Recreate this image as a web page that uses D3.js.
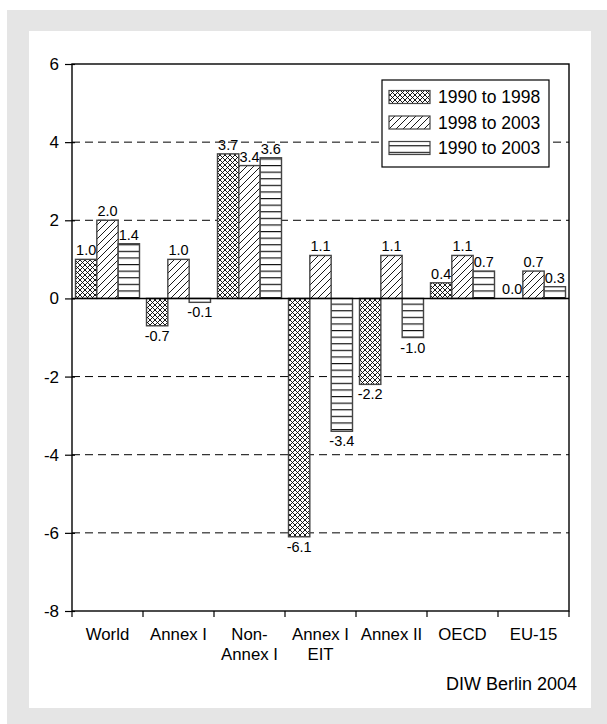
<!DOCTYPE html>
<html>
<head>
<meta charset="utf-8">
<script src="https://cdn.jsdelivr.net/npm/d3@7"></script>
<style>
  html, body { margin: 0; padding: 0; background: #fff; }
  svg { display: block; font-family: "Liberation Sans", Arial, sans-serif; }
</style>
</head>
<body>
<svg id="chart" width="607" height="724"></svg>
<script>
// Average annual change, per cent
const categories = [
  ["World"], ["Annex I"], ["Non-", "Annex I"], ["Annex I", "EIT"],
  ["Annex II"], ["OECD"], ["EU-15"]
];
const seriesNames = ["1990 to 1998", "1998 to 2003", "1990 to 2003"];
const s1990to1998 = [1.0, -0.7, 3.7, -6.1, -2.2, 0.4, 0.0];
const s1998to2003 = [2.0, 1.0, 3.4, 1.1, 1.1, 1.1, 0.7];
const s1990to2003 = [1.4, -0.1, 3.6, -3.4, -1.0, 0.7, 0.3];
const yTicks = [-8, -6, -4, -2, 0, 2, 4, 6];
const credit = "DIW Berlin 2004";

const seriesValues = [s1990to1998, s1998to2003, s1990to2003];
const patternIds = ["pat-cross", "pat-diag", "pat-horiz"];

const svg = d3.select("#chart");

// Frame
svg.append("rect").attr("x", 7).attr("y", 10).attr("width", 600).attr("height", 714).attr("fill", "#e5e5e5");
svg.append("rect").attr("x", 29).attr("y", 31).attr("width", 562).attr("height", 677).attr("fill", "#fff");

// Fill patterns
const defs = svg.append("defs");
const pc = defs.append("pattern").attr("id", "pat-cross").attr("patternUnits", "userSpaceOnUse")
  .attr("width", 5).attr("height", 5);
pc.append("rect").attr("width", 5).attr("height", 5).attr("fill", "#fff");
pc.append("path").attr("d", "M0,0L5,5M5,0L0,5").attr("stroke", "#000").attr("stroke-width", 0.9);

const pd = defs.append("pattern").attr("id", "pat-diag").attr("patternUnits", "userSpaceOnUse")
  .attr("width", 7).attr("height", 7);
pd.append("rect").attr("width", 7).attr("height", 7).attr("fill", "#fff");
pd.append("path").attr("d", "M0,7L7,0M-1,1L1,-1M6,8L8,6").attr("stroke", "#000").attr("stroke-width", 0.9);

const ph = defs.append("pattern").attr("id", "pat-horiz").attr("patternUnits", "userSpaceOnUse")
  .attr("width", 8).attr("height", 6.6);
ph.append("rect").attr("width", 8).attr("height", 6.6).attr("fill", "#fff");
ph.append("path").attr("d", "M0,0.6H8").attr("stroke", "#000").attr("stroke-width", 1.1);

// Scales
const y = d3.scaleLinear().domain([-8, 6]).range([611, 64]);
const x = d3.scaleBand().domain(d3.range(categories.length)).range([72, 569]).paddingInner(0).paddingOuter(0);
const xs = d3.scaleBand().domain(d3.range(seriesNames.length)).range([3.5, x.bandwidth() - 3.5]);

// Gridlines
svg.append("g").selectAll("line")
  .data(yTicks.filter(t => t !== 0 && t !== -8 && t !== 6))
  .join("line")
  .attr("x1", 72).attr("x2", 569)
  .attr("y1", d => y(d)).attr("y2", d => y(d))
  .attr("stroke", "#000").attr("stroke-width", 1)
  .attr("stroke-dasharray", "8,5");

// Bars
const bars = svg.append("g");
seriesValues.forEach((vals, si) => {
  bars.selectAll(null).data(vals).join("rect")
    .attr("x", (d, i) => x(i) + xs(si))
    .attr("width", xs.bandwidth())
    .attr("y", d => y(Math.max(0, d)))
    .attr("height", d => Math.abs(y(d) - y(0)))
    .attr("fill", `url(#${patternIds[si]})`)
    .attr("stroke", "#444").attr("stroke-width", 1.4);
});

// Zero line
svg.append("line").attr("x1", 72).attr("x2", 569).attr("y1", y(0)).attr("y2", y(0))
  .attr("stroke", "#000").attr("stroke-width", 1.4);

// Plot frame
svg.append("rect").attr("x", 72).attr("y", y(6)).attr("width", 569 - 72).attr("height", y(-8) - y(6))
  .attr("fill", "none").attr("stroke", "#000").attr("stroke-width", 1.4);

// Value labels
const labels = svg.append("g").attr("font-size", 14.5).attr("fill", "#000").attr("text-anchor", "middle");
seriesValues.forEach((vals, si) => {
  labels.selectAll(null).data(vals).join("text")
    .attr("x", (d, i) => x(i) + xs(si) + xs.bandwidth() / 2)
    .attr("y", d => d < 0 ? y(d) + 15 : y(d) - 4)
    .text(d => d.toFixed(1));
});

// Y axis
const yAxis = d3.axisLeft(y).tickValues(yTicks).tickSize(7).tickPadding(6).tickFormat(d => String(d));
const gy = svg.append("g").attr("transform", "translate(72,0)").call(yAxis);
gy.select(".domain").remove();
gy.selectAll(".tick line").attr("stroke", "#000").attr("stroke-width", 1.2).attr("x2", -7).attr("x1", 3);
gy.selectAll(".tick text").attr("font-size", 17).attr("font-family", "Liberation Sans, Arial, sans-serif").attr("fill", "#000");

// X axis ticks
const xAxisTicks = d3.range(categories.length + 1).map(i => i < categories.length ? x(i) : 569);
svg.append("g").selectAll("line").data(xAxisTicks).join("line")
  .attr("x1", d => d).attr("x2", d => d).attr("y1", y(-8)).attr("y2", y(-8) + 6)
  .attr("stroke", "#000").attr("stroke-width", 1.2);

// Category labels
const cl = svg.append("g").attr("font-size", 16.8).attr("text-anchor", "middle").attr("fill", "#000");
categories.forEach((lines, i) => {
  const t = cl.append("text").attr("x", x(i) + x.bandwidth() / 2).attr("y", 640);
  lines.forEach((ln, k) => {
    t.append("tspan").attr("x", x(i) + x.bandwidth() / 2).attr("dy", k === 0 ? 0 : 20).text(ln);
  });
});

// Legend
const lg = svg.append("g");
lg.append("rect").attr("x", 382).attr("y", 80).attr("width", 167).attr("height", 87)
  .attr("fill", "#fff").attr("stroke", "#000").attr("stroke-width", 1.2);
seriesNames.forEach((name, i) => {
  const cy = 97 + i * 25.5;
  lg.append("rect").attr("x", 389).attr("y", cy - 6.5).attr("width", 41).attr("height", 13)
    .attr("fill", `url(#${patternIds[i]})`).attr("stroke", "#444").attr("stroke-width", 1.2);
  lg.append("text").attr("x", 438).attr("y", cy).attr("dy", "0.36em")
    .attr("font-size", 17.5).attr("fill", "#000").text(name);
});

// Source
svg.append("text").attr("x", 577).attr("y", 690).attr("text-anchor", "end")
  .attr("font-size", 18).attr("fill", "#000").text(credit);
</script>
</body>
</html>
